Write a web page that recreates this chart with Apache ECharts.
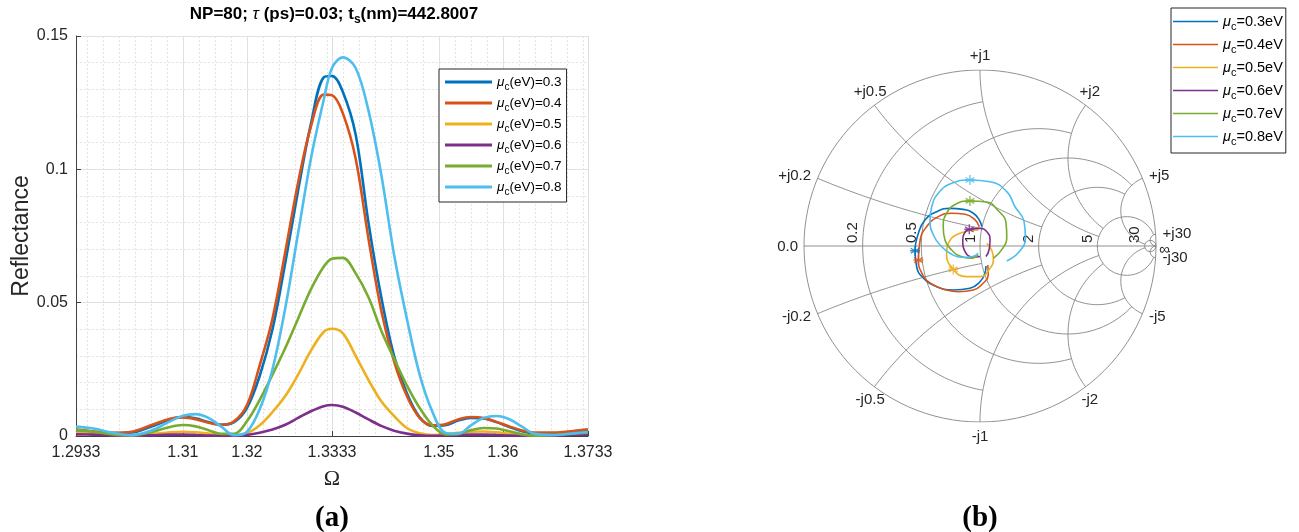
<!DOCTYPE html>
<html>
<head>
<meta charset="utf-8">
<title>Reflectance spectra and Smith chart</title>
<style>
  html, body { margin: 0; padding: 0; background: #fff; }
  #main { width: 1299px; height: 532px; }
</style>
<script src="https://cdn.jsdelivr.net/npm/echarts@6/dist/echarts.min.js"></script>
</head>
<body>
<div id="main"></div>
<script>
// ---------------- data ----------------
var muValues = ['0.3', '0.4', '0.5', '0.6', '0.7', '0.8'];
var colors = ['#0072bd', '#d95319', '#edb120', '#7e2f8e', '#77ac30', '#4dbeee'];

// (a) reflectance vs normalised frequency
var omega = [1.2933, 1.296, 1.299, 1.302, 1.305, 1.308, 1.310, 1.312, 1.314, 1.316,
             1.318, 1.320, 1.322, 1.324, 1.326, 1.328, 1.330, 1.332, 1.3333, 1.335,
             1.337, 1.339, 1.341, 1.343, 1.345, 1.347, 1.349, 1.351, 1.353, 1.355,
             1.357, 1.359, 1.361, 1.363, 1.365, 1.368, 1.371, 1.3733];
var refl03 = [0.0022, 0.0016, 0.0011, 0.0013, 0.0035, 0.0062, 0.0071, 0.0066, 0.0052, 0.0042,
              0.0052, 0.0105, 0.0225, 0.0400, 0.0650, 0.0920, 0.1170, 0.1345, 0.1350, 0.1290,
              0.1130, 0.0800, 0.0520, 0.0300, 0.0160, 0.0070, 0.0038, 0.0040, 0.0058, 0.0068,
              0.0066, 0.0052, 0.0034, 0.0018, 0.0010, 0.0009, 0.0014, 0.0020];
var refl04 = [0.0024, 0.0017, 0.0012, 0.0016, 0.0040, 0.0065, 0.0070, 0.0063, 0.0050, 0.0042,
              0.0055, 0.0115, 0.0265, 0.0440, 0.0690, 0.0950, 0.1160, 0.1280, 0.1278, 0.1210,
              0.1040, 0.0740, 0.0470, 0.0280, 0.0150, 0.0068, 0.0040, 0.0044, 0.0062, 0.0071,
              0.0067, 0.0053, 0.0036, 0.0021, 0.0013, 0.0013, 0.0019, 0.0025];
var refl05 = [0.0012, 0.0009, 0.0004, 0.0002, 0.0007, 0.0014, 0.0016, 0.0014, 0.0009, 0.0004,
              0.0003, 0.0010, 0.0040, 0.0090, 0.0150, 0.0230, 0.0320, 0.0390, 0.0402, 0.0385,
              0.0300, 0.0210, 0.0130, 0.0075, 0.0030, 0.0010, 0.0004, 0.0006, 0.0012, 0.0016,
              0.0017, 0.0014, 0.0008, 0.0004, 0.0002, 0.0003, 0.0006, 0.0008];
var refl06 = [0.0006, 0.0005, 0.0003, 0.0002, 0.0003, 0.0005, 0.0005, 0.0004, 0.0002, 0.0001,
              0.0001, 0.0004, 0.0012, 0.0024, 0.0042, 0.0068, 0.0093, 0.0112, 0.0116, 0.0110,
              0.0088, 0.0062, 0.0038, 0.0020, 0.0009, 0.0003, 0.0001, 0.0002, 0.0004, 0.0005,
              0.0005, 0.0004, 0.0002, 0.0001, 0.0001, 0.0002, 0.0004, 0.0005];
var refl07 = [0.0022, 0.0016, 0.0006, 0.0002, 0.0014, 0.0034, 0.0041, 0.0036, 0.0022, 0.0008,
              0.0008, 0.0055, 0.0135, 0.0230, 0.0330, 0.0440, 0.0550, 0.0635, 0.0665, 0.0668,
              0.0610, 0.0520, 0.0395, 0.0290, 0.0190, 0.0105, 0.0040, 0.0006, 0.0008, 0.0022,
              0.0030, 0.0028, 0.0018, 0.0006, 0.0001, 0.0004, 0.0009, 0.0012];
var refl08 = [0.0035, 0.0028, 0.0012, 0.0003, 0.0020, 0.0055, 0.0076, 0.0082, 0.0068, 0.0035,
              0.0003, 0.0015, 0.0100, 0.0250, 0.0480, 0.0760, 0.1040, 0.1260, 0.1380, 0.1420,
              0.1380, 0.1220, 0.0980, 0.0680, 0.0440, 0.0230, 0.0090, 0.0012, 0.0008, 0.0040,
              0.0068, 0.0075, 0.0063, 0.0035, 0.0008, 0.0004, 0.0010, 0.0015];
var reflSeries = [refl03, refl04, refl05, refl06, refl07, refl08];
var xTickValues = [1.2933, 1.31, 1.32, 1.3333, 1.35, 1.36, 1.3733];

// (b) reflection coefficient traces [Re, Im]
var smith03 = [[0.034, -0.114], [0.028, -0.155], [0.0, -0.203], [-0.057, -0.24], [-0.152, -0.25],
               [-0.246, -0.231], [-0.32, -0.184], [-0.36, -0.118], [-0.369, -0.027], [-0.35, 0.072],
               [-0.3125, 0.148], [-0.246, 0.195], [-0.17, 0.214], [-0.095, 0.208], [-0.038, 0.186],
               [-0.004, 0.148], [0.01, 0.11]];
var smith04 = [[0.044, -0.108], [0.047, -0.165], [0.019, -0.21], [-0.038, -0.25], [-0.123, -0.26],
               [-0.19, -0.25], [-0.284, -0.21], [-0.33, -0.155], [-0.35, -0.08], [-0.34, 0.034],
               [-0.303, 0.11], [-0.237, 0.167], [-0.161, 0.186], [-0.085, 0.18], [-0.028, 0.148],
               [-0.004, 0.11]];
var smith05 = [[-0.009, 0.091], [-0.114, 0.072], [-0.18, 0.015], [-0.19, -0.042], [-0.152, -0.133],
               [-0.076, -0.174], [0.0, -0.174], [0.057, -0.127], [0.076, -0.07], [0.066, -0.023],
               [0.038, 0.015]];
var smith06 = [[0.034, -0.06], [0.052, -0.02], [0.057, 0.034], [0.04, 0.08], [0.0, 0.1], [-0.061, 0.095],
               [-0.09, 0.07], [-0.098, 0.034], [-0.085, -0.032], [-0.038, -0.064], [0.0, -0.06]];
var smith07 = [[0.076, -0.07], [0.131, -0.011], [0.152, 0.053], [0.148, 0.13], [0.104, 0.20], [0.038, 0.25],
               [-0.057, 0.256], [-0.133, 0.24], [-0.19, 0.186], [-0.209, 0.11], [-0.199, 0.034],
               [-0.161, -0.023], [-0.104, -0.061], [-0.047, -0.07], [-0.01, -0.05]];
var smith08 = [[0.152, -0.085], [0.225, -0.03], [0.258, 0.05], [0.25, 0.14], [0.199, 0.223], [0.152, 0.309],
               [0.057, 0.365], [-0.057, 0.375], [-0.161, 0.356], [-0.237, 0.30], [-0.274, 0.223],
               [-0.284, 0.148], [-0.265, 0.0625], [-0.218, -0.004], [-0.161, -0.047], [-0.104, -0.064],
               [-0.047, -0.061], [-0.01, -0.041]];
var smithSeries = [smith03, smith04, smith05, smith06, smith07, smith08];
var smithMarkers = [[-0.369, -0.027], [-0.35, -0.08], [-0.152, -0.133], [-0.061, 0.095], [-0.057, 0.256], [-0.057, 0.375]];

// Smith grid: circle values and where each one stops
var gridValues = [0.2, 0.5, 1, 2, 5, 30];
var gridLimits = [1, 2, 5, 5, 30, Infinity];

// ---------------- helpers ----------------
var FONT = '"Liberation Sans", Helvetica, Arial, sans-serif';
var SERIF = '"Liberation Serif", "Times New Roman", serif';

function gammaOf(re, im) {
  var dr = re + 1, nr = re - 1, d = dr * dr + im * im;
  return [(nr * dr + im * im) / d, (im * dr - nr * im) / d];
}
function norm(a) { while (a < 0) a += 2 * Math.PI; return a; }

function rCircle(r, lim) {
  var c = r / (1 + r), R = 1 / (1 + r), a0 = 0, a1 = 2 * Math.PI, pts = [];
  if (isFinite(lim)) {
    var g = gammaOf(r, lim);
    a0 = Math.atan2(g[1], g[0] - c);
    a1 = 2 * Math.PI - a0;
  }
  for (var i = 0; i <= 120; i++) {
    var a = a0 + (a1 - a0) * i / 120;
    pts.push([c + R * Math.cos(a), R * Math.sin(a)]);
  }
  return pts;
}
function xArc(x, lim) {
  var cy = 1 / x, R = 1 / Math.abs(x), pts = [];
  var g0 = gammaOf(0, x);
  var a0 = norm(Math.atan2(g0[1] - cy, g0[0] - 1));
  var a1 = 1.5 * Math.PI;
  if (isFinite(lim)) {
    var gL = gammaOf(lim, x);
    a1 = norm(Math.atan2(gL[1] - cy, gL[0] - 1));
  }
  for (var i = 0; i <= 100; i++) {
    var a = a0 + (a1 - a0) * i / 100;
    pts.push([1 + R * Math.cos(a), cy + R * Math.sin(a)]);
  }
  return pts;
}

function richName(name) {
  // 'μc(eV)=0.3' -> rich text with subscript c
  return '{mu|μ}{sub|c}{t|' + name.slice(2) + '}';
}
function legendRich(size) {
  return {
    mu: { fontStyle: 'italic', fontSize: size, fontFamily: FONT, color: '#000' },
    sub: { fontSize: size - 3.5, fontFamily: FONT, color: '#000', padding: [10, 0, 0, 0] },
    t: { fontSize: size, fontFamily: FONT, color: '#000' }
  };
}

// ---------------- build series ----------------
var series = [];
var leftNames = [], rightNames = [];

muValues.forEach(function (mu, k) {
  var name = 'μc(eV)=' + mu;
  leftNames.push(name);
  series.push({
    name: name, type: 'line', xAxisIndex: 0, yAxisIndex: 0,
    data: omega.map(function (w, i) { return [w, reflSeries[k][i]]; }),
    showSymbol: false, symbol: 'none', smooth: 0.35,
    lineStyle: { width: 2.6, color: colors[k] }, itemStyle: { color: colors[k] },
    z: 5
  });
});

var gridStyle = { color: '#858585', width: 0.9 };
function gridSeries(pts) {
  return { type: 'line', xAxisIndex: 2, yAxisIndex: 2, data: pts, symbol: 'none', silent: true,
           lineStyle: gridStyle, z: 1, animation: false };
}
series.push(gridSeries([[-1, 0], [1, 0]]));
series.push(gridSeries(rCircle(0, Infinity)));
gridValues.forEach(function (v, i) {
  series.push(gridSeries(rCircle(v, gridLimits[i])));
  var arc = xArc(v, gridLimits[i]);
  series.push(gridSeries(arc));
  series.push(gridSeries(arc.map(function (p) { return [p[0], -p[1]]; })));
});

var asterisk = 'path://M5,0L5,10M0.67,2.5L9.33,7.5M0.67,7.5L9.33,2.5M0,5L10,5';
muValues.forEach(function (mu, k) {
  var name = 'μc=' + mu + 'eV';
  rightNames.push(name);
  series.push({
    name: name, type: 'line', xAxisIndex: 2, yAxisIndex: 2,
    data: smithSeries[k], symbol: 'none', smooth: 0.5,
    lineStyle: { width: 1.6, color: colors[k] }, itemStyle: { color: colors[k] }, z: 5
  });
  series.push({
    type: 'scatter', xAxisIndex: 2, yAxisIndex: 2, data: [smithMarkers[k]],
    symbol: asterisk, symbolSize: 10, silent: true,
    itemStyle: { color: 'none', borderColor: colors[k], borderWidth: 1.4 }, z: 6
  });
});

// minor x grid positions (every 0.0025 inside the range)
var minorX = [];
for (var m = 1.295; m < 1.3733; m += 0.0025) minorX.push(+m.toFixed(4));

var tickLabelStyle = { fontSize: 16, color: '#262626', fontFamily: FONT };

var option = {
  animation: false,
  backgroundColor: '#fff',
  grid: [
    { left: 76, top: 36, width: 512, height: 400 },
    { left: 804, top: 70, width: 352, height: 352 }
  ],
  xAxis: [
    {
      type: 'value', gridIndex: 0, min: 1.2933, max: 1.3733,
      name: 'Ω', nameLocation: 'middle', nameGap: 32,
      nameTextStyle: { fontSize: 22, fontFamily: SERIF, color: '#262626' },
      axisLine: { show: true, lineStyle: { color: '#404040' } },
      axisTick: { show: true, inside: true, length: 5, customValues: xTickValues, lineStyle: { color: '#404040' } },
      axisLabel: { customValues: xTickValues, margin: 9, ...tickLabelStyle,
                   formatter: function (v) { return String(+v.toFixed(4)); } },
      splitLine: { show: true, lineStyle: { color: '#dedede', width: 1 } }
    },
    {
      type: 'value', gridIndex: 0, min: 1.2933, max: 1.3733,
      axisLine: { show: false }, axisLabel: { show: false },
      axisTick: { show: false, customValues: minorX },
      splitLine: { show: true, lineStyle: { color: '#e4e4e4', width: 1, type: [2, 2] } }
    },
    { type: 'value', gridIndex: 1, min: -1, max: 1, show: false }
  ],
  yAxis: [
    {
      type: 'value', gridIndex: 0, min: 0, max: 0.15, interval: 0.05,
      name: 'Reflectance', nameLocation: 'middle', nameGap: 35,
      nameTextStyle: { fontSize: 23, fontFamily: FONT, color: '#262626' },
      axisLine: { show: true, lineStyle: { color: '#404040' } },
      axisTick: { show: true, inside: true, length: 5, lineStyle: { color: '#404040' } },
      axisLabel: { margin: 8, ...tickLabelStyle },
      splitLine: { show: true, lineStyle: { color: '#dedede', width: 1 } }
    },
    {
      type: 'value', gridIndex: 0, min: 0, max: 0.15, interval: 0.01,
      axisLine: { show: false }, axisLabel: { show: false }, axisTick: { show: false },
      splitLine: { show: true, lineStyle: { color: '#e4e4e4', width: 1, type: [2, 2] } }
    },
    { type: 'value', gridIndex: 1, min: -1, max: 1, show: false }
  ],
  legend: [
    {
      data: leftNames, left: 439, top: 69, orient: 'vertical',
      icon: 'rect', itemWidth: 47, itemHeight: 3, itemGap: 4,
      padding: [6, 5, 5, 6], borderColor: '#262626', borderWidth: 1, backgroundColor: '#fff',
      selectedMode: false, formatter: richName,
      textStyle: { rich: legendRich(13.5) }
    },
    {
      data: rightNames, left: 1171, top: 8, orient: 'vertical',
      icon: 'rect', itemWidth: 45, itemHeight: 1.5, itemGap: 5,
      padding: [6, 3, 6, 2], borderColor: '#262626', borderWidth: 1, backgroundColor: '#fff',
      selectedMode: false,
      formatter: function (n) { return '{mu|μ}{sub|c}{t|' + n.slice(2) + '}'; },
      textStyle: { rich: legendRich(14.5) }
    }
  ],
  series: series
};

var chart = echarts.init(document.getElementById('main'));
chart.setOption(option);

// ---------------- text: title, panel tags, Smith labels ----------------
function px(p) { return chart.convertToPixel({ xAxisIndex: 2, yAxisIndex: 2 }, p); }
var graphics = [];
graphics.push({
  type: 'text', x: 334, y: 2,
  style: {
    text: '{b|NP=80; }{tau|τ}{b| (ps)=0.03; t}{s|s}{b|(nm)=442.8007}',
    align: 'center', verticalAlign: 'top',
    rich: {
      b: { fontSize: 17, fontWeight: 'bold', fontFamily: FONT, fill: '#000' },
      tau: { fontSize: 17, fontStyle: 'italic', fontFamily: FONT, fill: '#000' },
      s: { fontSize: 12, fontWeight: 'bold', fontFamily: FONT, fill: '#000', padding: [12, 0, 0, 0] }
    }
  }
});
[['(a)', 332], ['(b)', 980]].forEach(function (t) {
  graphics.push({ type: 'text', x: t[1], y: 519,
    style: { text: t[0], align: 'center', verticalAlign: 'middle',
             font: 'bold 29px ' + SERIF, fill: '#000' } });
});

var labStyle = 'normal 15px ' + FONT;
// resistance labels along the real axis (rotated)
gridValues.forEach(function (v) {
  var p = px([(v - 1) / (v + 1), 0]);
  graphics.push({ type: 'text', x: p[0] - 2, y: p[1] - 3, rotation: Math.PI / 2,
    style: { text: String(v), align: 'left', verticalAlign: 'bottom', font: labStyle, fill: '#262626' } });
});
var p0 = px([-1, 0]);
graphics.push({ type: 'text', x: p0[0] - 6, y: p0[1] + 1, style: { text: '0.0', align: 'right', verticalAlign: 'middle', font: labStyle, fill: '#262626' } });
var pInf = px([1, 0]);
graphics.push({ type: 'text', x: pInf[0] + 3, y: pInf[1] + 4, style: { text: '∞', align: 'left', verticalAlign: 'middle', font: labStyle, fill: '#262626' } });
// reactance labels around the rim
gridValues.forEach(function (v) {
  [1, -1].forEach(function (sg) {
    var g = gammaOf(0, sg * v);
    var p = px(g);
    var th = Math.atan2(g[1], g[0]);
    var c = Math.cos(th), s = Math.sin(th);
    graphics.push({ type: 'text', x: p[0] + 7 * c, y: p[1] - 7 * s,
      style: {
        text: (sg > 0 ? '+j' : '-j') + v,
        align: c > 0.7 ? 'left' : (c < -0.7 ? 'right' : 'center'),
        verticalAlign: s > 0.7 ? 'bottom' : (s < -0.7 ? 'top' : 'middle'),
        font: labStyle, fill: '#262626'
      } });
  });
});
chart.setOption({ graphic: graphics });
</script>
</body>
</html>
